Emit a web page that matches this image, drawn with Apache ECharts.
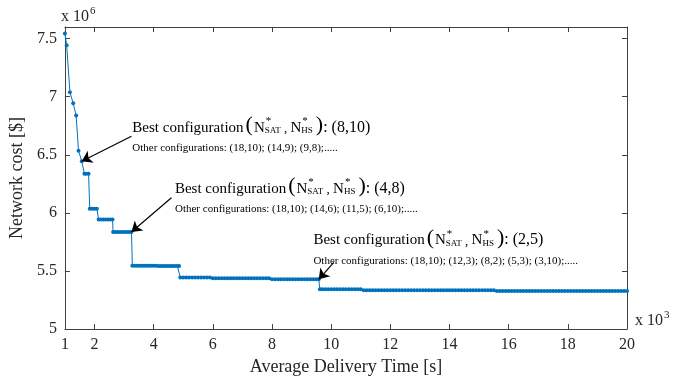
<!DOCTYPE html>
<html><head><meta charset="utf-8">
<script src="https://cdn.jsdelivr.net/npm/echarts@6/dist/echarts.min.js"></script>
<style>html,body{margin:0;padding:0;background:#fff}#c{width:686px;height:381px}</style>
</head><body><div id="c"></div>
<script>
// ---------------- data ----------------
const timeK = [
1.00,1.06,1.17,1.28,1.38,1.46,1.57,1.66,1.72,1.80,
1.84,1.92,2.00,2.08,
2.14,2.22,2.30,2.38,2.46,2.54,2.61,
2.63,2.70,2.78,2.86,2.94,3.02,3.10,3.18,3.25,
3.28,3.36,3.44,3.52,3.60,3.68,3.76,3.84,3.92,4.00,4.08,4.16,4.24,4.32,4.40,4.48,4.56,4.64,4.72,4.80,4.86,
4.9,5.0,5.1,5.2,5.3,5.4,5.5,5.6,5.7,5.8,5.9,
6.0,6.1,6.2,6.3,6.4,6.5,6.6,6.7,6.8,6.9,7.0,7.1,7.2,7.3,7.4,7.5,7.6,7.7,7.8,7.9,
8.0,8.1,8.2,8.3,8.4,8.5,8.6,8.7,8.8,8.9,9.0,9.1,9.2,9.3,9.4,9.5,
9.58,9.62,
9.7,9.8,9.9,10.0,10.1,10.2,10.3,10.4,10.5,10.6,10.7,10.8,10.9,11.0,
11.1,11.2,11.3,11.4,11.5,11.6,11.7,11.8,11.9,12.0,12.1,12.2,12.3,12.4,12.5,12.6,12.7,12.8,12.9,13.0,
13.1,13.2,13.3,13.4,13.5,13.6,13.7,13.8,13.9,14.0,14.1,14.2,14.3,14.4,14.5,14.6,14.7,14.8,14.9,15.0,
15.1,15.2,15.3,15.4,15.5,
15.6,15.7,15.8,15.9,16.0,16.1,16.2,16.3,16.4,16.5,16.6,16.7,16.8,16.9,17.0,17.1,17.2,17.3,17.4,17.5,
17.6,17.7,17.8,17.9,18.0,18.1,18.2,18.3,18.4,18.5,18.6,18.7,18.8,18.9,19.0,19.1,19.2,19.3,19.4,19.5,
19.6,19.7,19.8,19.9,20.0
];
const costM = [
7.545,7.443,7.038,6.944,6.838,6.535,6.444,6.338,6.338,6.338,
6.036,6.036,6.036,6.036,
5.944,5.944,5.944,5.944,5.944,5.944,5.944,
5.836,5.836,5.836,5.836,5.836,5.836,5.836,5.836,5.836,
5.545,5.545,5.545,5.545,5.545,5.545,5.545,5.545,5.545,5.545,5.545,5.544,5.544,5.544,5.544,5.543,5.543,5.543,5.543,5.543,5.543,
5.445,5.445,5.445,5.445,5.445,5.445,5.445,5.445,5.445,5.445,5.445,
5.437,5.437,5.437,5.437,5.437,5.437,5.437,5.437,5.437,5.437,5.437,5.437,5.437,5.437,5.437,5.437,5.437,5.437,5.437,5.437,
5.428,5.428,5.428,5.428,5.428,5.428,5.428,5.428,5.428,5.428,5.428,5.428,5.428,5.428,5.428,5.428,
5.428,5.343,
5.343,5.343,5.343,5.343,5.343,5.343,5.343,5.343,5.343,5.343,5.343,5.343,5.343,5.343,
5.335,5.335,5.335,5.335,5.335,5.335,5.335,5.335,5.335,5.335,5.335,5.335,5.335,5.335,5.335,5.335,5.335,5.335,5.335,5.335,
5.335,5.335,5.335,5.335,5.335,5.335,5.335,5.335,5.335,5.335,5.335,5.335,5.335,5.335,5.335,5.335,5.335,5.335,5.335,5.335,
5.335,5.335,5.335,5.335,5.335,
5.327,5.327,5.327,5.327,5.327,5.327,5.327,5.327,5.327,5.327,5.327,5.327,5.327,5.327,5.327,5.327,5.327,5.327,5.327,5.327,
5.327,5.327,5.327,5.327,5.327,5.327,5.327,5.327,5.327,5.327,5.327,5.327,5.327,5.327,5.327,5.327,5.327,5.327,5.327,5.327,
5.327,5.327,5.327,5.327,5.327
];
const xTicks = [1,2,4,6,8,10,12,14,16,18,20];
const yTicks = [5,5.5,6,6.5,7,7.5];
const bestConfig = ['(8,10)','(4,8)','(2,5)'];
const otherConfigs = [
  '(18,10); (14,9); (9,8);.....',
  '(18,10); (14,6); (11,5); (6,10);.....',
  '(18,10); (12,3); (8,2); (5,3); (3,10);.....'
];
const arrowTipIndex = [6, 29, 98];

// ---------------- layout (annotation anchors in data units) ----------------
const arrowTail = [[3.25,6.66],[4.60,6.13],[10.09,5.574]];
const textAnchor = [[3.28,6.688],[4.72,6.166],[9.40,5.72]];

const FONT = '"Liberation Serif", "Times New Roman", serif';
const BLUE = '#0072BD';
const AX = '#404040';
const LBL = '#262626';

const seriesData = timeK.map((t,i)=>[t,costM[i]]);
const chart = echarts.init(document.getElementById('c'), null, {renderer:'canvas'});

const baseAxis = {
  axisLine:{show:true,lineStyle:{color:AX,width:1}},
  splitLine:{show:false}
};

chart.setOption({
  animation:false,
  backgroundColor:'#fff',
  grid:{left:61,right:59,top:27,bottom:49,containLabel:false},
  xAxis:[
    Object.assign({}, baseAxis, {
      type:'value',min:1,max:20,position:'bottom',
      name:'Average Delivery Time [s]',nameLocation:'middle',nameGap:27,
      nameTextStyle:{fontFamily:FONT,fontSize:18,color:LBL},
      axisTick:{show:true,inside:true,length:5,lineStyle:{color:AX},customValues:xTicks},
      axisLabel:{show:true,color:LBL,fontFamily:FONT,fontSize:16,margin:8,customValues:xTicks}
    }),
    Object.assign({}, baseAxis, {
      type:'value',min:1,max:20,position:'top',
      axisTick:{show:true,inside:true,length:5,lineStyle:{color:AX},customValues:xTicks},
      axisLabel:{show:false}
    })
  ],
  yAxis:[
    Object.assign({}, baseAxis, {
      type:'value',min:5,max:7.6,position:'left',
      name:'Network cost [$]',nameLocation:'middle',nameGap:30,
      nameTextStyle:{fontFamily:FONT,fontSize:18,color:LBL},
      axisTick:{show:true,inside:true,length:5,lineStyle:{color:AX},customValues:yTicks},
      axisLabel:{show:true,color:LBL,fontFamily:FONT,fontSize:16,margin:8,customValues:yTicks,
        formatter:v=>String(v)}
    }),
    Object.assign({}, baseAxis, {
      type:'value',min:5,max:7.6,position:'right',
      axisTick:{show:true,inside:true,length:5,lineStyle:{color:AX},customValues:yTicks},
      axisLabel:{show:false}
    })
  ],
  series:[{
    type:'line',
    data:seriesData,
    xAxisIndex:0,yAxisIndex:0,
    symbol:'circle',symbolSize:4,showSymbol:true,
    itemStyle:{color:BLUE},
    lineStyle:{color:BLUE,width:1},
    silent:true,
    markLine:{
      silent:true,
      symbol:['none','arrow'],
      symbolSize:10,
      label:{show:false},
      lineStyle:{color:'#000',width:1.2,type:'solid'},
      data:arrowTail.map((f,i)=>[{coord:f},{coord:[timeK[arrowTipIndex[i]],costM[arrowTipIndex[i]]]}])
    }
  }]
});

// ---------------- text annotations ----------------
const ctx = document.createElement('canvas').getContext('2d');
function w(t,s){ctx.font = s+'px '+FONT; return ctx.measureText(t).width;}
function cy(base,s){return base - 0.33*s;}
function txt(t,x,base,s,color){
  return {type:'text',x:x,y:cy(base,s),silent:true,
    style:{text:t,font:s+'px '+FONT,fill:color||'#000',align:'left',verticalAlign:'middle'}};
}
const els = [];
textAnchor.forEach((a,i)=>{
  const p = chart.convertToPixel({xAxisIndex:0,yAxisIndex:0}, a);
  let x = p[0]; const b = p[1];
  const pieces = [
    {t:'Best configuration',s:15},
    {t:'(',s:22,pre:2},
    {t:'N',s:15,pre:1},
    {t:'*',s:11,dy:-8,over:true,ox:1},
    {t:'SAT',s:9,dy:1},
    {t:' , ',s:13},
    {t:'N',s:15},
    {t:'*',s:11,dy:-8,over:true,ox:1},
    {t:'HS',s:9,dy:1},
    {t:')',s:22,pre:3},
    {t:': '+bestConfig[i],s:16}
  ];
  pieces.forEach(pc=>{
    if(pc.pre) x += pc.pre;
    els.push(txt(pc.t, x+(pc.ox||0), b+(pc.dy||0), pc.s));
    if(!pc.over) x += w(pc.t,pc.s);
  });
  els.push(txt('Other configurations: '+otherConfigs[i], p[0], b+19, 11));
});
// exponent labels
els.push(txt('x 10',61,22,16,LBL));
els.push(txt('6',61+w('x 10',16)+1,15,11,LBL));
els.push(txt('x 10',635,326,16,LBL));
els.push(txt('3',635+w('x 10',16)+1,319,11,LBL));

chart.setOption({graphic:els});
</script>
</body></html>
